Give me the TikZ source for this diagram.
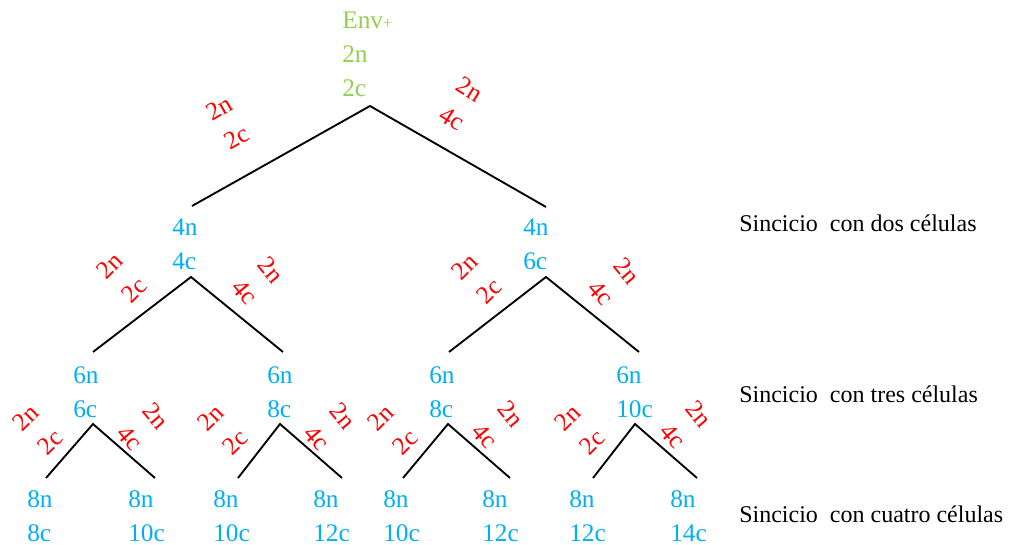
\documentclass[tikz,border=0pt]{standalone}
\usepackage{fontspec}
\setmainfont{Liberation Serif}
\usepackage{xcolor}
\usepackage{tikz}

\definecolor{envgreen}{HTML}{92D050}
\definecolor{cellblue}{HTML}{00B0F0}
\definecolor{gainred}{HTML}{FF0000}

\begin{document}
\begin{tikzpicture}[x=0.75pt,y=-0.75pt,
    every node/.style={inner sep=0pt,font=\fontsize{19}{25.5}\selectfont},
    cell/.style={text=cellblue,align=left,anchor=base west},
    gainL/.style={text=gainred,align=center,rotate=45},
    gainR/.style={text=gainred,align=center,rotate=-50},
    stage/.style={anchor=base west,font=\fontsize{18}{22}\selectfont},
    branch/.style={line width=1.4pt}]
    \useasboundingbox (0,0) rectangle (1013,545);
    % Root
    \node[text=envgreen,align=left,anchor=base west] (root) at (342,97)
      {Env{\fontsize{12}{12}\selectfont+}\\2n\\2c};
    % Two cells
    \node[cell] (c2a) at (172,270) {4n\\4c};
    \node[cell] (c2b) at (523,270) {4n\\6c};
    % Three cells
    \node[cell] (c3a) at (73,417) {6n\\6c};
    \node[cell] (c3b) at (267,417) {6n\\8c};
    \node[cell] (c3c) at (429,417) {6n\\8c};
    \node[cell] (c3d) at (616,417) {6n\\10c};
    % Four cells
    \node[cell] (c4a) at (27,541) {8n\\8c};
    \node[cell] (c4b) at (128,541) {8n\\10c};
    \node[cell] (c4c) at (213,541) {8n\\10c};
    \node[cell] (c4d) at (313,541) {8n\\12c};
    \node[cell] (c4e) at (383,541) {8n\\10c};
    \node[cell] (c4f) at (482,541) {8n\\12c};
    \node[cell] (c4g) at (569,541) {8n\\12c};
    \node[cell] (c4h) at (670,541) {8n\\14c};
    % Branch points
    \coordinate (t0) at (370,106);
    \coordinate (e2a) at (192,206);
    \coordinate (e2b) at (546,207);
    \coordinate (t2a) at (191,277);
    \coordinate (t2b) at (546,277);
    \coordinate (e3a) at (93,352);
    \coordinate (e3b) at (283,352);
    \coordinate (e3c) at (449,352);
    \coordinate (e3d) at (639,352);
    \coordinate (t3a) at (93,424);
    \coordinate (t3b) at (280,424);
    \coordinate (t3c) at (448,424);
    \coordinate (t3d) at (635,424);
    \coordinate (e4a) at (46,478);
    \coordinate (e4b) at (155,478);
    \coordinate (e4c) at (238,478);
    \coordinate (e4d) at (342,478);
    \coordinate (e4e) at (403,478);
    \coordinate (e4f) at (510,478);
    \coordinate (e4g) at (593,478);
    \coordinate (e4h) at (697,478);
    % Branches
    \draw[branch] (e2a) -- (t0) -- (e2b);
    \draw[branch] (e3a) -- (t2a) -- (e3b);
    \draw[branch] (e3c) -- (t2b) -- (e3d);
    \draw[branch] (e4a) -- (t3a) -- (e4b);
    \draw[branch] (e4c) -- (t3b) -- (e4d);
    \draw[branch] (e4e) -- (t3c) -- (e4f);
    \draw[branch] (e4g) -- (t3d) -- (e4h);
    % Gains
    \node[gainL,rotate=-15] (g1a) at (228,123) {2n\\2c};
    \node[gainR,rotate=18] (g1b) at (461,104) {2n\\4c};
    \node[gainL] (g2a) at (122,278) {2n\\2c};
    \node[gainR] (g2b) at (258,281) {2n\\4c};
    \node[gainL] (g2c) at (477,279) {2n\\2c};
    \node[gainR] (g2d) at (614,282) {2n\\4c};
    \node[gainL] (g3a) at (38,430) {2n\\2c};
    \node[gainR] (g3b) at (143,427) {2n\\4c};
    \node[gainL] (g3c) at (223,430) {2n\\2c};
    \node[gainR] (g3d) at (330,427) {2n\\4c};
    \node[gainL] (g3e) at (393,430) {2n\\2c};
    \node[gainR] (g3f) at (498,425) {2n\\4c};
    \node[gainL] (g3g) at (580,430) {2n\\2c};
    \node[gainR] (g3h) at (686,425) {2n\\4c};
    % Stages
    \node[stage] (s2) at (739,232) {Sincicio\ \ con dos células};
    \node[stage] (s3) at (739,402) {Sincicio\ \ con tres células};
    \node[stage] (s4) at (739,522) {Sincicio\ \ con cuatro células};
  \end{tikzpicture}
\end{document}
